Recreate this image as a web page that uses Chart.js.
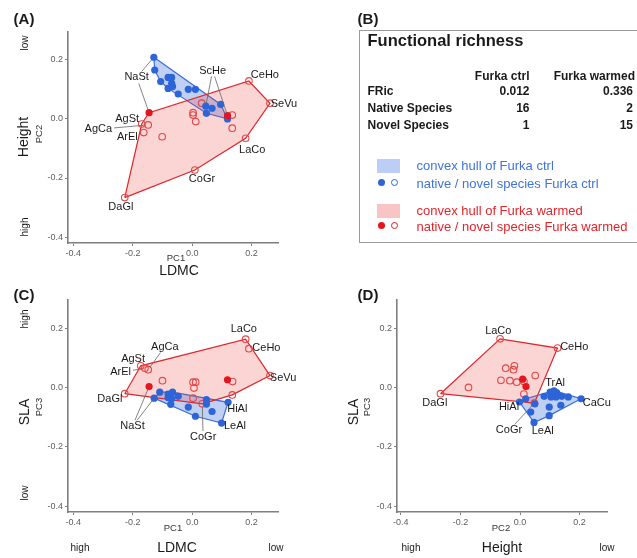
<!DOCTYPE html>
<html>
<head>
<meta charset="utf-8">
<script src="https://cdn.jsdelivr.net/npm/chart.js@4.4.0/dist/chart.umd.min.js"></script>
<style>
body { margin: 0; background: #fff; font-family: "Liberation Sans", Arial, sans-serif; }
#wrap { position: relative; width: 637px; height: 558px; overflow: hidden; }
canvas { position: absolute; }
#boxB { position: absolute; left: 359px; top: 30px; width: 290px; height: 211px; border: 1px solid #9a9a9a; }
</style>
</head>
<body>
<div id="wrap">
  <div id="boxB"></div>
  <canvas id="chA" width="300" height="262" style="left:0;top:0"></canvas>
  <canvas id="chC" width="300" height="252" style="left:0;top:280px"></canvas>
  <canvas id="chD" width="310" height="252" style="left:320px;top:280px"></canvas>
</div>
<script>
// ---- data ----
const tickVals = [-0.4, -0.2, 0, 0.2];

// (A) PC1 vs PC2
const A_ctrlNative = [[-0.129,0.207],[-0.126,0.164],[-0.106,0.125],[-0.081,0.139],[-0.069,0.139],[-0.069,0.119],
  [-0.081,0.102],[-0.066,0.108],[-0.047,0.083],[-0.013,0.099],[0.011,0.099],[0.046,0.042],[0.067,0.035],
  [0.048,0.018],[0.096,0.048],[0.119,-0.001]];
const A_warmNative = [[-0.145,0.020],[0.119,0.010]];
const A_warmNovel = [[0.191,0.127],[0.262,0.052],[0.180,-0.066],[0.009,-0.173],[-0.227,-0.266],[0.135,0.012],
  [0.135,-0.032],[0.032,0.052],[0.003,0.020],[0.003,0.012],[0.012,-0.010],[-0.101,-0.061],[-0.170,-0.018],
  [-0.148,-0.021],[-0.163,-0.047]];
const A_labels = [
  ['NaSt', -0.187, 0.139, [[-0.129,0.207],[-0.145,0.020]]],
  ['ScHe', 0.069, 0.162, [[0.046,0.042],[0.119,0.010]]],
  ['CeHo', 0.245, 0.147], ['SeVu', 0.309, 0.048], ['LaCo', 0.202, -0.105],
  ['CoGr', 0.033, -0.204], ['DaGl', -0.240, -0.296], ['AgSt', -0.219, -0.001],
  ['AgCa', -0.316, -0.036, [[-0.148,-0.021]]], ['ArEl', -0.218, -0.063]
];

// (C) PC1 vs PC3
const C_ctrlNative = [[-0.128,-0.036],[-0.109,-0.016],[-0.081,-0.022],[-0.075,-0.030],[-0.066,-0.016],[-0.081,-0.034],
  [-0.069,-0.038],[-0.047,-0.030],[-0.072,-0.057],[-0.013,-0.066],[0.011,-0.097],[0.048,-0.041],[0.048,-0.056],
  [0.067,-0.081],[0.121,-0.050],[0.099,-0.120]];
const C_warmNative = [[-0.145,0.003],[0.119,0.026]];
const C_warmNovel = [[0.180,0.163],[0.191,0.131],[0.262,0.040],[-0.227,-0.021],[-0.173,0.073],[-0.159,0.065],
  [-0.148,0.060],[-0.100,0.023],[0.003,0.018],[0.012,0.018],[0.006,-0.002],[0.003,-0.036],[0.034,-0.055],
  [0.136,0.020],[0.135,-0.025]];
const C_labels = [
  ['LaCo', 0.174, 0.197], ['CeHo', 0.250, 0.133], ['SeVu', 0.306, 0.032],
  ['AgCa', -0.092, 0.138, [[-0.148,0.060]]], ['AgSt', -0.199, 0.097],
  ['ArEl', -0.241, 0.051, [[-0.159,0.065]]], ['DaGl', -0.277, -0.038],
  ['NaSt', -0.201, -0.131, [[-0.145,0.003],[-0.128,-0.036]]],
  ['HiAl', 0.152, -0.073], ['LeAl', 0.144, -0.129], ['CoGr', 0.037, -0.167, [[0.034,-0.055]]]
];

// (D) PC2 vs PC3
const D_ctrlNative = [[-0.002,-0.049],[0.019,-0.038],[0.036,-0.083],[0.047,-0.118],[0.050,-0.055],[0.081,-0.030],
  [0.101,-0.016],[0.114,-0.011],[0.123,-0.017],[0.104,-0.032],[0.121,-0.032],[0.140,-0.030],[0.162,-0.032],
  [0.205,-0.038],[0.098,-0.066],[0.137,-0.060],[0.098,-0.095]];
const D_warmNative = [[0.009,0.028],[0.020,0.003]];
const D_warmNovel = [[-0.067,0.164],[0.126,0.133],[-0.267,-0.021],[-0.173,0.000],[-0.048,0.065],[-0.019,0.073],
  [-0.022,0.060],[-0.064,0.024],[-0.034,0.023],[-0.011,0.018],[0.051,0.040],[0.013,0.020],[0.013,-0.022],
  [0.048,-0.053]];
const D_labels = [
  ['LaCo', -0.073, 0.192], ['CeHo', 0.182, 0.136], ['DaGl', -0.286, -0.053],
  ['TrAl', 0.118, 0.015], ['HiAl', -0.037, -0.067], ['CaCu', 0.258, -0.053],
  ['LeAl', 0.076, -0.148], ['CoGr', -0.037, -0.145, [[0.048,-0.053]]]
];

// (B) table
const frCols = ['Furka ctrl', 'Furka warmed'];
const frRows = ['FRic', 'Native Species', 'Novel Species'];
const frCtrl = ['0.012', '16', '1'];
const frWarm = ['0.336', '2', '15'];

const BLUE = '#2d64d8', RED = '#e3161d';
const FONT = '"Liberation Sans", Arial, sans-serif';

// convex hull (monotone chain), closed
function hull(pts) {
  const p = pts.slice().sort((a, b) => a[0] - b[0] || a[1] - b[1]);
  const cross = (o, a, b) => (a[0]-o[0])*(b[1]-o[1]) - (a[1]-o[1])*(b[0]-o[0]);
  const lo = [], up = [];
  for (const q of p) { while (lo.length >= 2 && cross(lo[lo.length-2], lo[lo.length-1], q) <= 0) lo.pop(); lo.push(q); }
  for (const q of p.slice().reverse()) { while (up.length >= 2 && cross(up[up.length-2], up[up.length-1], q) <= 0) up.pop(); up.push(q); }
  const h = lo.slice(0, -1).concat(up.slice(0, -1));
  h.push(h[0]);
  return h;
}
const xy = a => a.map(p => ({x: p[0], y: p[1]}));

const labelPlugin = {
  id: 'ptLabels',
  afterDatasetsDraw(chart, args, opts) {
    const {ctx} = chart, sx = chart.scales.x, sy = chart.scales.y;
    ctx.save();
    ctx.font = '11px ' + FONT;
    ctx.textAlign = 'center';
    ctx.textBaseline = 'middle';
    for (const l of opts.items) {
      const cx = sx.getPixelForValue(l[1]), cy = sy.getPixelForValue(l[2]);
      const hw = ctx.measureText(l[0]).width / 2 + 2, hh = 6;
      (l[3] || []).forEach(([tx, ty]) => {
        const px = sx.getPixelForValue(tx), py = sy.getPixelForValue(ty);
        const dx = px - cx, dy = py - cy, len = Math.hypot(dx, dy);
        const t = Math.min(hw / Math.abs(dx || 1e-9), hh / Math.abs(dy || 1e-9));
        ctx.beginPath();
        ctx.moveTo(cx + dx * t, cy + dy * t);
        ctx.lineTo(px - dx / len * 3, py - dy / len * 3);
        ctx.strokeStyle = '#666';
        ctx.lineWidth = 0.8;
        ctx.stroke();
      });
      ctx.fillStyle = '#1a1a1a';
      ctx.fillText(l[0], cx, cy);
    }
    ctx.restore();
  }
};

function axis(min, max, fit) {
  return {
    type: 'linear', min: min, max: max,
    afterBuildTicks: s => { s.ticks = tickVals.map(v => ({value: v})); },
    afterFit: fit,
    grid: {drawOnChartArea: false, drawTicks: true, tickLength: 3, color: '#7f7f7f'},
    border: {display: true, color: '#7f7f7f', width: 1.6},
    ticks: {color: '#5e5e5e', font: {size: 9, family: FONT}, padding: 2, maxRotation: 0,
            callback: v => v.toFixed(1)}
  };
}

function panel(id, box, xr, yr, ctrlNative, warmNative, warmNovel, labels) {
  new Chart(document.getElementById(id), {
    type: 'scatter',
    data: {datasets: [
      {type: 'line', data: xy(hull(ctrlNative)), borderColor: '#3a6ed8', backgroundColor: 'rgba(45,100,216,0.3)',
       borderWidth: 1.2, pointRadius: 0, fill: 'shape', tension: 0, order: 5},
      {type: 'line', data: xy(hull(warmNative.concat(warmNovel))), borderColor: '#e0262b', backgroundColor: 'rgba(235,60,60,0.22)',
       borderWidth: 1.2, pointRadius: 0, fill: 'shape', tension: 0, order: 4},
      {data: xy(warmNovel), pointRadius: 3.3, pointBorderWidth: 1.1, pointBorderColor: '#e24848',
       pointBackgroundColor: 'rgba(0,0,0,0)', order: 2},
      {data: xy(ctrlNative), pointRadius: 3.6, pointBorderWidth: 0, pointBackgroundColor: BLUE, order: 1},
      {data: xy(warmNative), pointRadius: 3.6, pointBorderWidth: 0, pointBackgroundColor: RED, order: 0}
    ]},
    options: {
      responsive: false, animation: false,
      layout: {autoPadding: false, padding: {top: box.top, right: box.w - box.right, bottom: 0, left: 0}},
      plugins: {legend: {display: false}, tooltip: {enabled: false}, ptLabels: {items: labels}},
      scales: {
        x: axis(xr[0], xr[1], s => { s.height = box.h - box.bottom; }),
        y: axis(yr[0], yr[1], s => { s.width = box.left; })
      }
    },
    plugins: [labelPlugin]
  });
}

panel('chA', {w: 300, h: 262, left: 68, top: 32, right: 278, bottom: 243}, [-0.418, 0.289], [-0.419, 0.292],
  A_ctrlNative, A_warmNative, A_warmNovel, A_labels);
panel('chC', {w: 300, h: 252, left: 68, top: 20, right: 278, bottom: 232}, [-0.418, 0.289], [-0.420, 0.295],
  C_ctrlNative, C_warmNative, C_warmNovel, C_labels);
panel('chD', {w: 310, h: 252, left: 77, top: 20, right: 287, bottom: 232}, [-0.413, 0.292], [-0.420, 0.295],
  D_ctrlNative, D_warmNative, D_warmNovel, D_labels);

// ---- text around the panels ----
const wrap = document.getElementById('wrap');
function put(s, x, y, o) {
  o = o || {};
  const d = document.createElement('div');
  d.textContent = s;
  const ax = {l: '0%', c: '-50%', r: '-100%'}[o.a || 'c'];
  d.style.cssText = 'position:absolute;left:' + x + 'px;top:' + y + 'px;white-space:nowrap;line-height:1;' +
    'font-size:' + (o.s || 10) + 'px;font-weight:' + (o.w || 'normal') + ';color:' + (o.c || '#1a1a1a') +
    ';transform:translate(' + ax + ',-50%)' + (o.rot ? ' rotate(-90deg)' : '') + ';';
  wrap.appendChild(d);
}
function dot(x, y, col, open) {
  const d = document.createElement('div');
  d.style.cssText = 'position:absolute;left:' + (x - 3.5) + 'px;top:' + (y - 3.5) + 'px;width:7px;height:7px;box-sizing:border-box;border-radius:50%;' +
    (open ? 'border:1px solid ' + col + ';' : 'background:' + col + ';');
  wrap.appendChild(d);
}
function rect(x, y, w, h, col) {
  const d = document.createElement('div');
  d.style.cssText = 'position:absolute;left:' + x + 'px;top:' + y + 'px;width:' + w + 'px;height:' + h + 'px;background:' + col + ';';
  wrap.appendChild(d);
}

// (A)
put('(A)', 24, 18, {s: 15, w: 'bold'});
put('low', 25, 43, {rot: 1});
put('high', 25, 227, {rot: 1});
put('Height', 23, 137, {s: 14, rot: 1});
put('PC2', 38.5, 134, {s: 9.5, rot: 1, c: '#333'});
put('PC1', 176, 258, {s: 9.5, c: '#333'});
put('LDMC', 179, 270, {s: 14});
// (C)
put('(C)', 24, 294, {s: 15, w: 'bold'});
put('high', 25, 319, {rot: 1});
put('low', 25, 493, {rot: 1});
put('SLA', 24, 412, {s: 14, rot: 1});
put('PC3', 38.5, 407, {s: 9.5, rot: 1, c: '#333'});
put('PC1', 173, 528, {s: 9.5, c: '#333'});
put('LDMC', 177, 547, {s: 14});
put('high', 80, 548);
put('low', 276, 548);
// (D)
put('(D)', 368, 294, {s: 15, w: 'bold'});
put('SLA', 353, 412, {s: 14, rot: 1});
put('PC3', 367, 407, {s: 9.5, rot: 1, c: '#333'});
put('PC2', 501, 528, {s: 9.5, c: '#333'});
put('Height', 502, 547, {s: 14});
put('high', 411, 548);
put('low', 607, 548);
// (B)
put('(B)', 368, 18, {s: 15, w: 'bold'});
put('Functional richness', 367.5, 40, {a: 'l', s: 16.5, w: 'bold'});
put(frCols[0], 529.5, 76, {a: 'r', s: 12, w: 'bold'});
put(frCols[1], 635, 76, {a: 'r', s: 12, w: 'bold'});
frRows.forEach((r, i) => {
  const y = 91 + i * 17;
  put(r, 367.5, y, {a: 'l', s: 12, w: 'bold'});
  put(frCtrl[i], 529.5, y, {a: 'r', s: 12, w: 'bold'});
  put(frWarm[i], 633, y, {a: 'r', s: 12, w: 'bold'});
});
rect(376.5, 159, 23.5, 13.5, 'rgb(188,206,246)');
put('convex hull of Furka ctrl', 416.5, 164.5, {a: 'l', s: 13, c: '#3f74dc'});
dot(381.5, 182.3, BLUE, false);
dot(394.3, 182.3, BLUE, true);
put('native / novel species Furka ctrl', 416.5, 182.5, {a: 'l', s: 13, c: '#3f74dc'});
rect(376.5, 204, 23.5, 13.5, 'rgb(249,196,196)');
put('convex hull of Furka warmed', 416.5, 209.5, {a: 'l', s: 13, c: '#e3252b'});
dot(381.5, 225.7, RED, false);
dot(394.3, 225.7, RED, true);
put('native / novel species Furka warmed', 416.5, 226, {a: 'l', s: 13, c: '#e3252b'});
</script>
</body>
</html>
